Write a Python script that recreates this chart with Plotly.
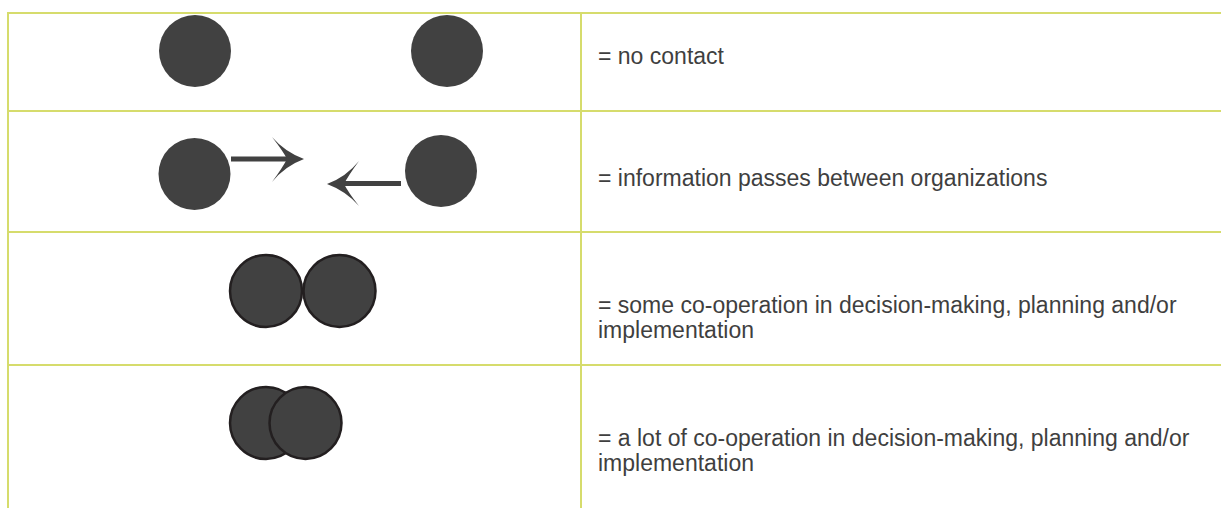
import plotly.graph_objects as go

# ---- content ----
labels = [
    ["= no contact"],
    ["= information passes between organizations"],
    ["= some co-operation in decision-making, planning and/or", "implementation"],
    ["= a lot of co-operation in decision-making, planning and/or", "implementation"],
]
circle_x = [[195, 447], [194.5, 441], [266, 339.5], [266, 305.5]]
circle_y = [[51, 51], [174, 171], [291, 291], [423, 423]]
outlined = [False, False, True, True]
text_y = [[56], [178], [305, 330], [438, 463]]

# ---- layout geometry ----
W, H = 1221, 508
GRID = "#d6dc6c"
DARK = "#414141"
EDGE = "#231f20"
row_lines = [13, 111, 232, 365]
col_lines = [8, 581]
text_x = 596

fig = go.Figure()

shapes = []
for y in row_lines:
    shapes.append(dict(type="line", x0=7, x1=W, y0=y, y1=y, line=dict(color=GRID, width=2), layer="below"))
for x in col_lines:
    shapes.append(dict(type="line", x0=x, x1=x, y0=row_lines[0], y1=H, line=dict(color=GRID, width=2), layer="below"))

# arrows (row 2)
shapes.append(dict(type="line", x0=231, x1=290, y0=159, y1=159, line=dict(color=DARK, width=5)))
shapes.append(dict(type="path",
                   path="M 304,159 Q 285,152 272,137 Q 283,151 287,159 Q 283,167 272,182 Q 285,166 304,159 Z",
                   fillcolor=DARK, line=dict(width=0)))
shapes.append(dict(type="line", x0=340, x1=401, y0=183.5, y1=183.5, line=dict(color=DARK, width=5)))
shapes.append(dict(type="path",
                   path="M 327,184 Q 346,177 359,161 Q 348,176 344,184 Q 348,192 359,206 Q 346,191 327,184 Z",
                   fillcolor=DARK, line=dict(width=0)))

for xs, ys, ol in zip(circle_x, circle_y, outlined):
    fig.add_trace(go.Scatter(
        x=xs, y=ys, mode="markers",
        marker=dict(size=72, color=DARK,
                    line=dict(color=EDGE if ol else DARK, width=2.5 if ol else 0)),
        hoverinfo="skip", showlegend=False))

annotations = []
for lines, ys in zip(labels, text_y):
    for t, y in zip(lines, ys):
        annotations.append(dict(x=text_x, y=y, xref="x", yref="y", text=t, showarrow=False,
                                xanchor="left", yanchor="middle",
                                font=dict(family="Liberation Sans, Arial, sans-serif", size=23, color="#3f3f3f")))

fig.update_layout(
    width=W, height=H, margin=dict(l=0, r=0, t=0, b=0),
    paper_bgcolor="white", plot_bgcolor="white",
    xaxis=dict(range=[0, W], visible=False, fixedrange=True),
    yaxis=dict(range=[H, 0], visible=False, fixedrange=True),
    shapes=shapes, annotations=annotations, showlegend=False,
)

fig.write_html("out.html", config={"displayModeBar": False},
               post_script="document.body.style.margin='0';")
